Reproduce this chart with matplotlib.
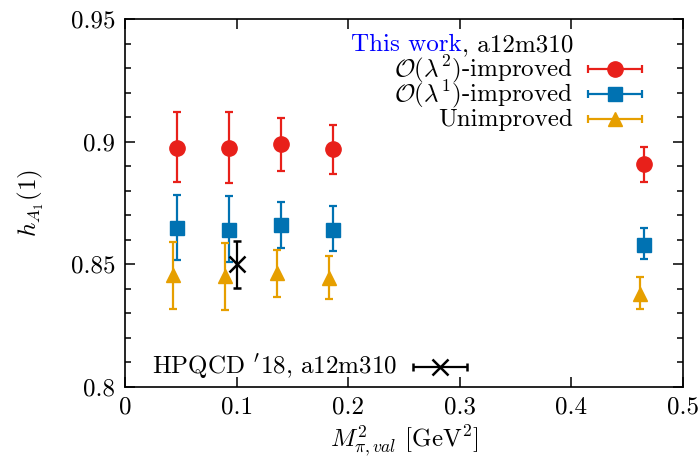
import numpy as np
import matplotlib
matplotlib.use('Agg')
import matplotlib.pyplot as plt
from matplotlib.ticker import MultipleLocator

plt.rcParams['font.family'] = 'serif'
plt.rcParams['font.serif'] = ['cmr10', 'DejaVu Serif']
plt.rcParams['mathtext.fontset'] = 'cm'
plt.rcParams['axes.formatter.use_mathtext'] = True

# data
msq = [0.0466, 0.0935, 0.1398, 0.1861, 0.465]
msq_unimp = [0.0431, 0.0900, 0.1363, 0.1826, 0.4615]

h_lam2 = [0.8975, 0.8973, 0.8990, 0.8970, 0.8908]
h_lam2_lo = [0.8837, 0.8830, 0.8882, 0.8870, 0.8837]
h_lam2_hi = [0.9120, 0.9120, 0.9097, 0.9070, 0.8980]

h_lam1 = [0.8648, 0.8640, 0.8660, 0.8642, 0.8580]
h_lam1_lo = [0.8516, 0.8508, 0.8565, 0.8553, 0.8520]
h_lam1_hi = [0.8782, 0.8777, 0.8756, 0.8736, 0.8650]

h_unimp = [0.8456, 0.8452, 0.8464, 0.8445, 0.8380]
h_unimp_lo = [0.8320, 0.8313, 0.8366, 0.8358, 0.8320]
h_unimp_hi = [0.8590, 0.8585, 0.8557, 0.8533, 0.8447]

hpqcd_x = 0.1001
hpqcd_y = 0.8500
hpqcd_err = 0.0095

red = '#e8201a'
blue = '#0072b2'
orange = '#e69f00'
fs = 18

fig = plt.figure(figsize=(7, 4.65), dpi=100)
ax = fig.add_axes([0.1786, 0.1677, 0.7971, 0.7914])

def yerr(c, lo, hi):
    c = np.array(c)
    return [c - np.array(lo), np.array(hi) - c]

ekw = dict(ls='none', capsize=3.2, elinewidth=1.6, capthick=1.6)
ax.errorbar(msq, h_lam2, yerr=yerr(h_lam2, h_lam2_lo, h_lam2_hi), fmt='o', color=red, ms=11, **ekw)
ax.errorbar(msq, h_lam1, yerr=yerr(h_lam1, h_lam1_lo, h_lam1_hi), fmt='s', color=blue, ms=10.5, **ekw)
ax.errorbar(msq_unimp, h_unimp, yerr=yerr(h_unimp, h_unimp_lo, h_unimp_hi), fmt='^', color=orange, ms=10, **ekw)
ax.errorbar([hpqcd_x], [hpqcd_y], yerr=[hpqcd_err], fmt='x', color='black', ms=11, mew=1.8, **ekw)

# key, drawn in axes fraction
tr = ax.transAxes
t2 = ax.text(0.803, 0.929, ', a12m310', color='black', fontsize=fs, ha='right', va='center', transform=tr)
fig.canvas.draw()
bb = t2.get_window_extent().transformed(tr.inverted())
ax.text(bb.x0, 0.929, 'This work', color='blue', fontsize=fs, ha='right', va='center', transform=tr)
keys = [(r'$\mathcal{O}(\lambda^2)$-improved', red, 'o', 11, 0.865),
        (r'$\mathcal{O}(\lambda^1)$-improved', blue, 's', 10.5, 0.795),
        ('Unimproved', orange, '^', 10, 0.727)]
for lab, col, mk, ms, yy in keys:
    ax.text(0.803, yy, lab, fontsize=fs, ha='right', va='center', transform=tr)
    ax.errorbar([0.878], [yy], xerr=[0.049], fmt=mk, color=col, ms=ms, transform=tr, **ekw)
ax.text(0.487, 0.056, "HPQCD $'$18, a12m310", fontsize=fs, ha='right', va='center', transform=tr)
ax.errorbar([0.5645], [0.054], xerr=[0.049], fmt='x', color='black', ms=11, mew=1.8, transform=tr, **ekw)

ax.set_xlim(0, 0.5)
ax.set_ylim(0.8, 0.95)
ax.set_xticks([0, 0.1, 0.2, 0.3, 0.4, 0.5])
ax.set_xticklabels(['0', '0.1', '0.2', '0.3', '0.4', '0.5'])
ax.set_yticks([0.8, 0.85, 0.9, 0.95])
ax.set_yticklabels(['0.8', '0.85', '0.9', '0.95'])
ax.yaxis.set_minor_locator(MultipleLocator(0.01))
ax.tick_params(which='both', direction='in', top=True, right=True, labelsize=fs, width=1.1)
ax.tick_params(which='major', length=7, pad=7)
ax.tick_params(which='minor', length=4)
for s in ax.spines.values():
    s.set_linewidth(1.2)

ax.set_xlabel(r'$M^2_{\pi,val}$ [GeV$^2$]', fontsize=fs, labelpad=3)
ax.set_ylabel(r'$h_{A_1}(1)$', fontsize=fs, labelpad=18)

fig.savefig('out.png', dpi=100)
